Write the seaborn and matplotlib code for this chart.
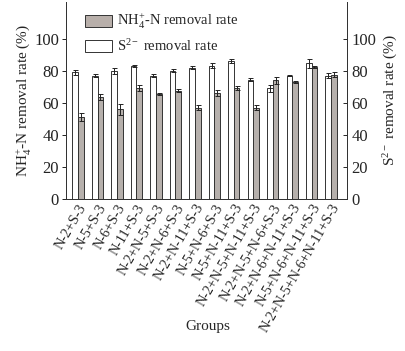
import matplotlib
matplotlib.use("Agg")
import matplotlib.pyplot as plt
import matplotlib.patches as mpatches
import numpy as np
import pandas as pd
import seaborn as sns

groups = ["N-2+S-3", "N-5+S-3", "N-6+S-3", "N-11+S-3", "N-2+N-5+S-3",
          "N-2+N-6+S-3", "N-2+N-11+S-3", "N-5+N-6+S-3", "N-5+N-11+S-3",
          "N-2+N-5+N-11+S-3", "N-2+N-5+N-6+S-3", "N-2+N-6+N-11+S-3",
          "N-5+N-6+N-11+S-3", "N-2+N-5+N-6+N-11+S-3"]
s_rate = [79, 77, 80, 83, 77, 80, 82, 83, 86, 74.5, 69, 77, 84.5, 77]
s_err = [1.5, 1.0, 2.0, 0.8, 1.0, 0.8, 1.0, 1.5, 1.5, 0.8, 2.0, 0.5, 2.5, 1.5]
n_rate = [51, 63.5, 56, 69, 65.5, 67.5, 57, 66, 69, 57, 74, 73, 82.5, 77.5]
n_err = [2.5, 2.0, 3.5, 1.8, 0.5, 1.0, 1.5, 1.8, 1.2, 1.8, 2.0, 0.8, 0.5, 1.5]

S_LAB = "S$^{2-}$ removal rate"
N_LAB = "NH$_4^{+}$-N removal rate"
GRAY = "#b8afaa"

sns.set_theme(style="ticks")
plt.rcParams.update({
    "font.family": ["Liberation Serif", "DejaVu Serif"],
    "mathtext.fontset": "custom",
    "mathtext.rm": "Liberation Serif",
    "mathtext.it": "Liberation Serif:italic",
    "font.size": 10,
})

df = pd.DataFrame({
    "group": groups * 2,
    "rate": s_rate + n_rate,
    "err": s_err + n_err,
    "series": [S_LAB] * len(groups) + [N_LAB] * len(groups),
})

fig = plt.figure(figsize=(4.05, 3.51), dpi=100)
ax = fig.add_axes([0.163, 0.433, 0.694, 0.562])

sns.barplot(data=df, x="group", y="rate", hue="series",
            hue_order=[S_LAB, N_LAB], order=groups,
            palette={S_LAB: "white", N_LAB: GRAY},
            edgecolor="#333333", linewidth=0.7, width=0.58,
            errorbar=None, legend=False, ax=ax)

# error bars on top of each bar
for bars, errs, ser in zip(ax.containers, [s_err, n_err], [s_rate, n_rate]):
    xs = [b.get_x() + b.get_width() / 2 for b in bars]
    ax.errorbar(xs, ser, yerr=errs, fmt="none", ecolor="#222222",
                elinewidth=0.7, capsize=1.8, capthick=0.7, zorder=5)

ax.set_xlim(-0.62, len(groups) - 1 + 0.82)
ax.set_ylim(0, 123)
ax.set_yticks([0, 20, 40, 60, 80, 100])
ax.tick_params(axis="y", labelsize=12, length=3, width=0.7, colors="#222222", pad=2)
ax.tick_params(axis="x", length=0, labelsize=10.2, pad=2)
ax.set_xticks(range(len(groups)))
ax.set_xticklabels(groups, rotation=60, ha="right", rotation_mode="anchor")
ax.set_xlabel("Groups", fontsize=11)
ax.xaxis.set_label_coords(0.505, -0.615)
ax.set_ylabel("NH$_4^{+}$-N removal rate (%)", fontsize=11, labelpad=1)

ax2 = ax.twinx()
ax2.set_ylim(0, 123)
ax2.set_yticks([0, 20, 40, 60, 80, 100])
ax2.tick_params(axis="y", labelsize=12, length=3, width=0.7, direction="in", pad=3)
ax2.set_ylabel("S$^{2-}$ removal rate (%)", fontsize=11, labelpad=4)

for a in (ax, ax2):
    a.spines["top"].set_visible(False)
    for s in ("left", "right", "bottom"):
        a.spines[s].set_linewidth(0.7)
        a.spines[s].set_color("#333333")
ax.spines["right"].set_visible(True)

handles = [mpatches.Patch(facecolor=GRAY, edgecolor="#333333", linewidth=0.7, label=N_LAB),
           mpatches.Patch(facecolor="white", edgecolor="#333333", linewidth=0.7, label=S_LAB)]
ax.legend(handles=handles, loc="upper left", bbox_to_anchor=(0.04, 0.985),
          frameon=False, fontsize=10.5, handlelength=1.9, handleheight=0.9,
          handletextpad=0.3, labelspacing=0.45, borderaxespad=0.1)

fig.savefig("out.png", dpi=100, facecolor="white")
